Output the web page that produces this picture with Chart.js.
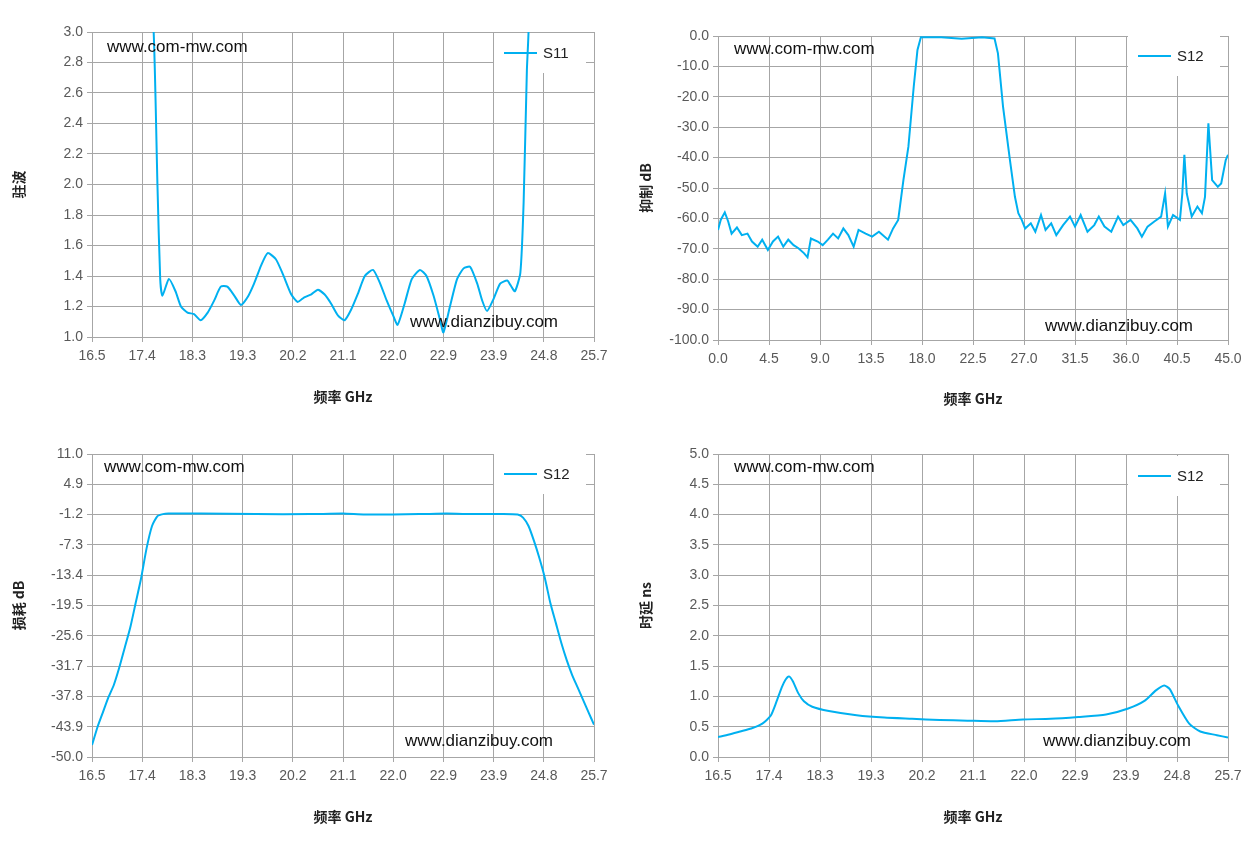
<!DOCTYPE html>
<html>
<head>
<meta charset="utf-8">
<script src="https://cdn.jsdelivr.net/npm/chart.js@4/dist/chart.umd.min.js"></script>
<style>
  body { margin: 0; background: #fff; width: 1258px; height: 843px; position: relative; overflow: hidden; }
  .box { position: absolute; }
</style>
</head>
<body>
<div class="box" style="left:0;top:0;width:629px;height:421px"><canvas id="c1"></canvas></div>
<div class="box" style="left:629px;top:0;width:629px;height:421px"><canvas id="c2"></canvas></div>
<div class="box" style="left:0;top:421px;width:629px;height:422px"><canvas id="c3"></canvas></div>
<div class="box" style="left:629px;top:421px;width:629px;height:422px"><canvas id="c4"></canvas></div>
<script>
// S11 VSWR
const s11Freq = [16.5, 17.2, 17.63, 17.70, 17.75, 17.79, 17.91, 18.03, 18.13, 18.25, 18.37, 18.49, 18.62, 18.74, 18.86, 18.98, 19.11, 19.23, 19.35, 19.47, 19.60, 19.72, 19.87, 20.00, 20.15, 20.27, 20.39, 20.52, 20.64, 20.76, 20.88, 21.01, 21.13, 21.25, 21.38, 21.50, 21.65, 21.77, 21.90, 22.02, 22.10, 22.23, 22.36, 22.51, 22.63, 22.76, 22.88, 22.94, 23.06, 23.19, 23.31, 23.43, 23.56, 23.65, 23.74, 23.86, 23.98, 24.11, 24.17, 24.25, 24.35, 24.41, 24.47, 24.50, 24.6, 25.7];
const s11Vals = [9, 6, 3.0, 1.99, 1.38, 1.27, 1.38, 1.30, 1.20, 1.16, 1.15, 1.11, 1.16, 1.24, 1.33, 1.33, 1.27, 1.21, 1.26, 1.35, 1.47, 1.55, 1.51, 1.41, 1.28, 1.23, 1.26, 1.28, 1.31, 1.28, 1.22, 1.14, 1.11, 1.18, 1.29, 1.40, 1.44, 1.36, 1.24, 1.14, 1.08, 1.22, 1.38, 1.44, 1.40, 1.27, 1.11, 1.03, 1.20, 1.38, 1.45, 1.46, 1.35, 1.24, 1.17, 1.25, 1.35, 1.37, 1.34, 1.30, 1.42, 1.88, 2.75, 3.0, 5, 9];

// S12 wideband rejection
const rejFreq = [0, 0.24, 0.6, 0.9, 1.2, 1.67, 2.1, 2.6, 3.0, 3.5, 3.9, 4.4, 4.85, 5.3, 5.76, 6.2, 6.67, 7.1, 7.6, 7.9, 8.2, 8.8, 9.24, 9.7, 10.15, 10.6, 11.06, 11.5, 11.97, 12.4, 13.03, 13.6, 14.2, 15.0, 15.45, 15.9, 16.36, 16.8, 17.27, 17.6, 17.9, 19.7, 21.5, 23.3, 24.4, 24.7, 25.15, 25.76, 26.2, 26.5, 26.8, 27.1, 27.6, 28.0, 28.5, 28.9, 29.4, 29.85, 30.45, 31.06, 31.5, 32.0, 32.6, 33.2, 33.6, 34.1, 34.7, 35.3, 35.76, 36.4, 37.0, 37.4, 37.9, 38.5, 39.1, 39.45, 39.7, 40.15, 40.76, 40.97, 41.15, 41.36, 41.8, 42.3, 42.7, 42.97, 43.27, 43.6, 44.1, 44.4, 44.8, 45.0];
const rejVals = [-63.8, -60.5, -58, -61, -65, -63, -65.5, -65, -67.6, -69.3, -67, -70.4, -67.6, -66, -69.3, -67, -68.8, -69.8, -71.5, -72.8, -66.6, -67.6, -68.8, -67, -65, -66.6, -63.3, -65.5, -69.3, -63.8, -65, -66, -64.4, -67, -63.3, -60.5, -47.4, -36.4, -16.7, -4.6, -0.4, -0.4, -0.9, -0.4, -0.8, -5.7, -23.2, -40.8, -52.9, -58.3, -60.5, -63.3, -61.6, -64.4, -58.9, -63.8, -61.6, -65.5, -62.2, -59.4, -62.7, -58.9, -64.4, -62.2, -59.4, -62.7, -64.4, -59.4, -62.2, -60.5, -63.3, -66, -62.7, -61, -59.4, -51.8, -62.7, -58.9, -60.5, -51.8, -39.1, -51.8, -59.4, -56.1, -58.3, -52.9, -28.7, -47.4, -49.6, -48.5, -40.8, -39.1];

// S12 insertion loss
const ilFreq = [16.5, 16.6, 16.7, 16.8, 16.9, 17.0, 17.1, 17.2, 17.3, 17.4, 17.5, 17.6, 17.7, 17.8, 17.9, 18.5, 19.5, 20.5, 21.1, 21.5, 22.5, 23.0, 23.5, 24.0, 24.3, 24.4, 24.5, 24.6, 24.7, 24.8, 24.9, 25.0, 25.1, 25.2, 25.3, 25.4, 25.5, 25.6, 25.7];
const ilVals = [-47.6, -44, -41, -38, -35.5, -32, -28, -24, -19, -14, -8, -3.5, -1.5, -1.1, -1.0, -1.0, -1.1, -1.1, -1.0, -1.2, -1.1, -1.0, -1.1, -1.1, -1.2, -1.8, -3.5, -6.5, -10, -14, -19, -23, -27, -30.5, -33.5, -36, -38.5, -41, -43.5];

// S12 group delay
const gdFreq = [16.5, 16.7, 16.9, 17.1, 17.3, 17.45, 17.55, 17.65, 17.72, 17.78, 17.85, 17.95, 18.05, 18.2, 18.5, 19.0, 19.5, 20.0, 20.5, 21.0, 21.5, 22.0, 22.5, 23.0, 23.5, 23.9, 24.2, 24.4, 24.55, 24.65, 24.8, 25.0, 25.2, 25.5, 25.7];
const gdVals = [0.33, 0.37, 0.42, 0.47, 0.55, 0.68, 0.9, 1.15, 1.28, 1.33, 1.25, 1.05, 0.92, 0.83, 0.76, 0.69, 0.65, 0.63, 0.61, 0.60, 0.59, 0.62, 0.63, 0.66, 0.70, 0.80, 0.93, 1.10, 1.18, 1.12, 0.85, 0.55, 0.42, 0.36, 0.32];

const GRID = '#a6a6a6';
const TICK = { color: '#595959', font: { family: 'Liberation Sans', size: 14 } };
const TITLE_FONT = { family: 'Noto Sans CJK SC', size: 14, weight: 'bold' };

function pts(xs, ys) { return xs.map((x, i) => ({ x: x, y: ys[i] })); }

const overlay = {
  id: 'overlay',
  beforeDatasetsDraw(chart) {
    const o = chart.options.plugins.overlay;
    const a = chart.chartArea, ctx = chart.ctx;
    const lx = a.right - o.lw, ly = a.top + o.ly;
    ctx.save();
    ctx.fillStyle = '#fff';
    ctx.fillRect(lx, ly - 20, o.lw - 8, 40);
    ctx.strokeStyle = '#00B0F0'; ctx.lineWidth = 2;
    ctx.beginPath(); ctx.moveTo(lx + 10, ly); ctx.lineTo(lx + 43, ly); ctx.stroke();
    ctx.fillStyle = '#222'; ctx.font = '15px Liberation Sans';
    ctx.textBaseline = 'middle';
    ctx.fillText(o.name, lx + 49, ly + 1);
    ctx.restore();
  },
  afterDatasetsDraw(chart) {
    const o = chart.options.plugins.overlay;
    const a = chart.chartArea, ctx = chart.ctx;
    ctx.save();
    ctx.fillStyle = '#111'; ctx.font = '17px Liberation Sans';
    ctx.textBaseline = 'middle';
    ctx.fillText('www.com-mw.com', a.left + o.w1x, a.top + o.w1y);
    ctx.fillText('www.dianzibuy.com', a.left + o.w2x, a.top + o.w2y);
    ctx.restore();
  }
};

function make(id, cfg) {
  new Chart(document.getElementById(id), {
    type: 'line',
    data: { datasets: [{ data: pts(cfg.xs, cfg.ys), borderColor: '#00B0F0', borderWidth: 2, pointRadius: 0, tension: cfg.tension, fill: false }] },
    options: {
      responsive: true, maintainAspectRatio: false, animation: false,
      layout: { padding: { top: cfg.top, right: cfg.right, left: cfg.left, bottom: cfg.bottom } },
      plugins: { legend: { display: false }, tooltip: { enabled: false }, overlay: cfg.overlay },
      scales: {
        x: {
          type: 'linear', min: cfg.xmin, max: cfg.xmax,
          afterBuildTicks: s => { s.ticks = cfg.xticks.map(v => ({ value: v })); },
          afterFit: s => { s.height = cfg.xh; },
          grid: { color: GRID, drawTicks: true, tickLength: 5 },
          border: { color: GRID },
          ticks: Object.assign({ autoSkip: false, maxRotation: 0, padding: 6, callback: v => v.toFixed(1) }, TICK),
          title: { display: true, text: '频率 GHz', color: '#222', font: TITLE_FONT, padding: { top: 4, bottom: 0 } }
        },
        y: {
          min: cfg.ymin, max: cfg.ymax,
          afterBuildTicks: s => { s.ticks = cfg.yticks.map(v => ({ value: v })); },
          afterFit: s => { s.width = cfg.yw; },
          grid: { color: GRID, tickLength: 5 },
          border: { color: GRID },
          ticks: Object.assign({ autoSkip: false, padding: 4, callback: v => v.toFixed(1) }, TICK),
          title: { display: true, text: cfg.ytitle, color: '#222', font: TITLE_FONT, padding: { bottom: 4 } }
        }
      }
    },
    plugins: [overlay]
  });
}

const gx = [16.5, 17.42, 18.34, 19.26, 20.18, 21.1, 22.02, 22.94, 23.86, 24.78, 25.7];

make('c1', {
  xs: s11Freq, ys: s11Vals, xmin: 16.5, xmax: 25.7, xticks: gx, tension: 0.2,
  ymin: 1.0, ymax: 3.0, yticks: [1.0, 1.2, 1.4, 1.6, 1.8, 2.0, 2.2, 2.4, 2.6, 2.8, 3.0],
  ytitle: '驻波', top: 32, right: 35, left: 6, bottom: 16, xh: 68, yw: 86,
  overlay: { name: 'S11', lw: 100, ly: 21, w1x: 15, w1y: 15, w2x: 318, w2y: 290 }
});
make('c2', {
  xs: rejFreq, ys: rejVals, xmin: 0, xmax: 45, xticks: [0, 4.5, 9, 13.5, 18, 22.5, 27, 31.5, 36, 40.5, 45], tension: 0,
  ymin: -100, ymax: 0, yticks: [-100, -90, -80, -70, -60, -50, -40, -30, -20, -10, 0],
  ytitle: '抑制 dB', top: 36, right: 30, left: 4, bottom: 14, xh: 67, yw: 85,
  overlay: { name: 'S12', lw: 100, ly: 20, w1x: 16, w1y: 13, w2x: 327, w2y: 290 }
});
make('c3', {
  xs: ilFreq, ys: ilVals, xmin: 16.5, xmax: 25.7, xticks: gx, tension: 0.2,
  ymin: -50, ymax: 11, yticks: [-50, -43.9, -37.8, -31.7, -25.6, -19.5, -13.4, -7.3, -1.2, 4.9, 11],
  ytitle: '损耗 dB', top: 33, right: 35, left: 6, bottom: 18, xh: 68, yw: 86,
  overlay: { name: 'S12', lw: 100, ly: 20, w1x: 12, w1y: 13, w2x: 313, w2y: 287 }
});
make('c4', {
  xs: gdFreq, ys: gdVals, xmin: 16.5, xmax: 25.7, xticks: gx, tension: 0.2,
  ymin: 0, ymax: 5, yticks: [0, 0.5, 1, 1.5, 2, 2.5, 3, 3.5, 4, 4.5, 5],
  ytitle: '时延 ns', top: 33, right: 30, left: 4, bottom: 18, xh: 68, yw: 85,
  overlay: { name: 'S12', lw: 100, ly: 22, w1x: 16, w1y: 13, w2x: 325, w2y: 287 }
});
</script>
</body>
</html>
